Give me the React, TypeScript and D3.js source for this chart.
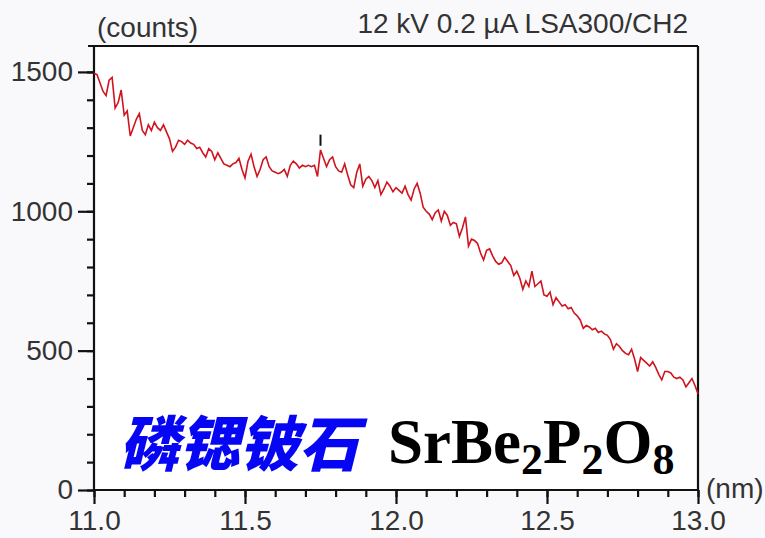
import React, { useRef, useEffect } from "react";
import * as d3 from "d3";

// wavelength start / step (nm)
const xStart = 11.0;
const xStep = 0.01;

// intensity (counts), every 0.01 nm
const counts: number[] = [
  1495, 1490, 1460, 1430, 1415, 1470, 1480, 1370, 1390, 1435,
  1345, 1360, 1270, 1300, 1330, 1350, 1290, 1275, 1310, 1290,
  1320, 1300, 1290, 1310, 1285, 1260, 1215, 1230, 1255, 1250,
  1240, 1255, 1245, 1240, 1225, 1230, 1210, 1195, 1225, 1215,
  1185, 1210, 1190, 1170, 1165, 1160, 1170, 1175, 1190, 1150,
  1120, 1180, 1205, 1160, 1125, 1150, 1185, 1195, 1160, 1145,
  1140, 1135, 1140, 1150, 1125, 1165, 1180, 1170, 1155, 1165,
  1160, 1165, 1160, 1165, 1125, 1220, 1190, 1160, 1185, 1195,
  1160, 1145, 1140, 1170, 1130, 1095, 1085, 1140, 1170, 1090,
  1115, 1125, 1110, 1085, 1110, 1060, 1080, 1105, 1090, 1070,
  1085, 1075, 1065, 1090, 1060, 1040, 1080, 1100, 1065, 1015,
  1000, 990, 970, 995, 1005, 965, 1000, 985, 950, 960,
  955, 910, 940, 980, 875, 900, 895, 885, 850, 825,
  860, 865, 840, 820, 810, 815, 835, 820, 805, 770,
  785, 760, 720, 750, 730, 785, 730, 740, 750, 700,
  695, 710, 665, 690, 675, 660, 665, 650, 655, 635,
  625, 610, 580, 590, 585, 575, 580, 565, 570, 560,
  555, 540, 505, 525, 515, 500, 490, 485, 505, 470,
  425, 475, 465, 455, 445, 460, 440, 415, 395, 425,
  425, 420, 405, 400, 405, 395, 370, 385, 400, 375,
  345,
];

// peak marker (nm) and the counts span of its little bar
const markers: number[] = [11.75];
const markerSpan: [number, number] = [1235, 1275];

const xTicks: number[] = [11.0, 11.5, 12.0, 12.5, 13.0];
const yTicks: number[] = [0, 500, 1000, 1500];

// chemical formula pieces: [text, is subscript]
const formulaParts: [string, boolean][] = [
  ["SrBe", false],
  ["2", true],
  ["P", false],
  ["2", true],
  ["O", false],
  ["8", true],
];

const App = () => {
  const ref = useRef<SVGSVGElement>(null);

  useEffect(() => {
    if (!ref.current) return;
    const svg = d3.select(ref.current);
    svg.selectAll("*").remove();

    const width = 765;
    const height = 538;
    const m = { top: 46, right: 67, bottom: 48, left: 94 };
    const iw = width - m.left - m.right;
    const ih = height - m.top - m.bottom;

    const data = counts.map((c, i) => ({ x: xStart + i * xStep, y: c }));

    const x = d3.scaleLinear().domain([11.0, 13.0]).range([0, iw]);
    const y = d3.scaleLinear().domain([0, 1593]).range([ih, 0]);

    svg
      .append("rect")
      .attr("width", width)
      .attr("height", height)
      .attr("fill", "#f9f9fc");

    const g = svg
      .append("g")
      .attr("transform", `translate(${m.left},${m.top})`);

    g.append("rect").attr("width", iw).attr("height", ih).attr("fill", "#fff");

    const font = "'Liberation Sans', Arial, sans-serif";
    const axisColor = "#111";
    const fs = 28;

    // minor ticks (no labels)
    const yMinor = g.append("g").call(
      d3.axisLeft(y).tickValues(d3.range(0, 1600, 100)).tickSize(7).tickFormat(() => "")
    );
    const xMinor = g
      .append("g")
      .attr("transform", `translate(0,${ih})`)
      .call(
        d3
          .axisBottom(x)
          .tickValues(d3.range(0, 21).map((i) => 11 + i * 0.1))
          .tickSize(7)
          .tickFormat(() => "")
      );

    // major ticks + labels
    const yAxis = g.append("g").call(
      d3
        .axisLeft(y)
        .tickValues(yTicks)
        .tickSize(16)
        .tickPadding(5)
        .tickFormat((d) => d3.format("d")(d as number))
    );
    const xAxis = g
      .append("g")
      .attr("transform", `translate(0,${ih})`)
      .call(
        d3
          .axisBottom(x)
          .tickValues(xTicks)
          .tickSize(14)
          .tickPadding(6)
          .tickFormat((d) => d3.format(".1f")(d as number))
      );

    [yMinor, xMinor, yAxis, xAxis].forEach((a) => {
      a.select(".domain").remove();
      a.selectAll(".tick line")
        .attr("stroke", axisColor)
        .attr("stroke-width", 2.2);
      a.selectAll(".tick text")
        .attr("font-family", font)
        .attr("font-size", fs)
        .attr("fill", "#333");
    });

    // frame
    const frame: [number, number, number, number][] = [
      [-6, 0, iw, 0],
      [iw, 0, iw, ih],
      [0, 0, 0, ih],
      [0, ih, iw, ih],
    ];
    g.selectAll(".frame")
      .data(frame)
      .enter()
      .append("line")
      .attr("class", "frame")
      .attr("x1", (d) => d[0])
      .attr("y1", (d) => d[1])
      .attr("x2", (d) => d[2])
      .attr("y2", (d) => d[3])
      .attr("stroke", axisColor)
      .attr("stroke-width", 2.2);

    // spectrum
    const line = d3
      .line<{ x: number; y: number }>()
      .x((d) => x(d.x))
      .y((d) => y(d.y));

    g.append("path")
      .datum(data)
      .attr("d", line)
      .attr("fill", "none")
      .attr("stroke", "#d0141e")
      .attr("stroke-width", 1.6);

    g.selectAll(".marker")
      .data(markers)
      .enter()
      .append("line")
      .attr("class", "marker")
      .attr("x1", (d) => x(d))
      .attr("x2", (d) => x(d))
      .attr("y1", y(markerSpan[0]))
      .attr("y2", y(markerSpan[1]))
      .attr("stroke", "#111")
      .attr("stroke-width", 2);

    // axis titles
    svg
      .append("text")
      .attr("x", 97)
      .attr("y", 37)
      .attr("font-family", font)
      .attr("font-size", fs)
      .attr("fill", "#333")
      .text("(counts)");

    svg
      .append("text")
      .attr("x", 688)
      .attr("y", 33)
      .attr("text-anchor", "end")
      .attr("font-family", font)
      .attr("font-size", fs)
      .attr("fill", "#333")
      .text("12 kV 0.2 µA LSA300/CH2");

    svg
      .append("text")
      .attr("x", 706)
      .attr("y", 498)
      .attr("font-family", font)
      .attr("font-size", fs)
      .attr("fill", "#333")
      .text("(nm)");

    // mineral name
    svg
      .append("text")
      .attr("transform", "translate(119,466) skewX(-14)")
      .attr("font-family", "'Noto Sans CJK SC', sans-serif")
      .attr("font-weight", 900)
      .attr("font-size", 60)
      .attr("fill", "#0606f4")
      .text("磷锶铍石");

    const formula = svg
      .append("text")
      .attr("x", 388)
      .attr("y", 463)
      .attr("font-family", "'Liberation Serif', 'Times New Roman', serif")
      .attr("font-weight", "bold")
      .attr("fill", "#000");
    const shift = 11;
    let prevSub = false;
    formulaParts.forEach(([t, sub]) => {
      formula
        .append("tspan")
        .attr("font-size", sub ? 44 : 63)
        .attr("dy", (sub ? shift : 0) - (prevSub ? shift : 0))
        .text(t);
      prevSub = sub;
    });
  }, []);

  return (
    <svg
      ref={ref}
      width={765}
      height={538}
      style={{ position: "absolute", left: 0, top: 0, display: "block" }}
    />
  );
};

export default App;
